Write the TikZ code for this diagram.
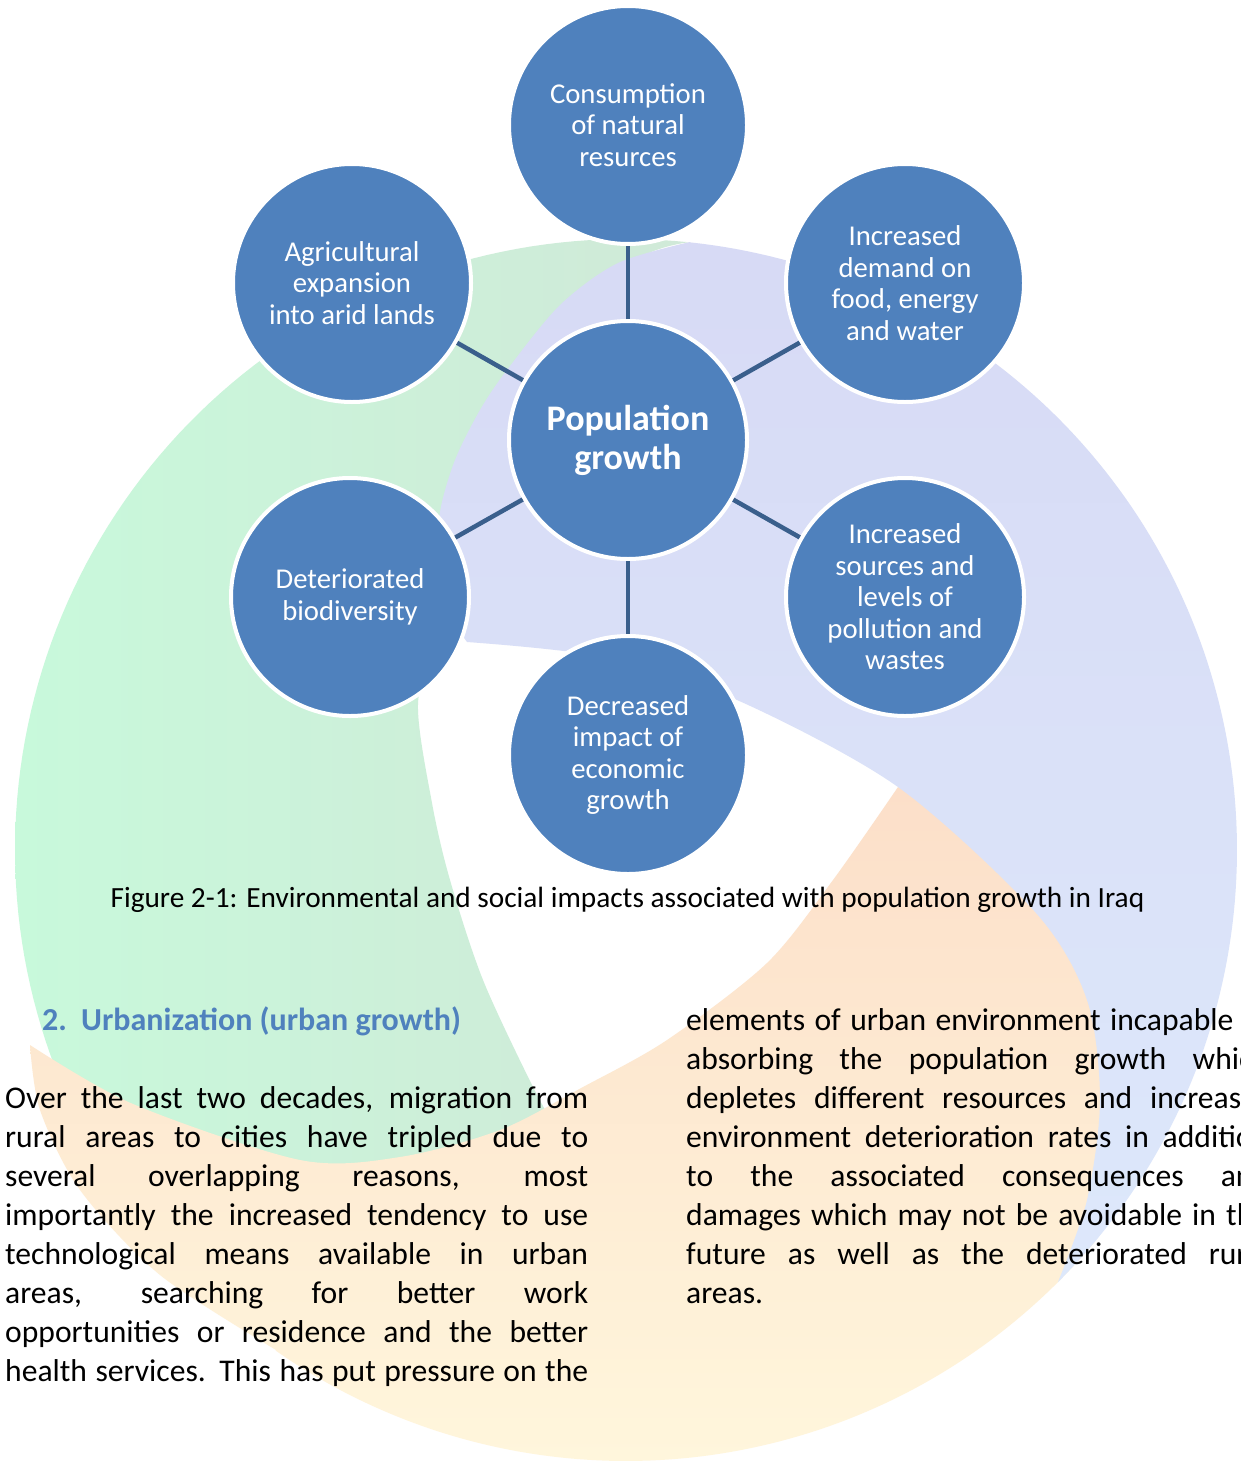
\documentclass[tikz,border=0pt]{standalone}
\usepackage{fontspec}
\setmainfont{Carlito}
\definecolor{cfill}{HTML}{4F81BD}
\definecolor{cline}{HTML}{3A5F8C}
\definecolor{headc}{HTML}{4F81BD}
\definecolor{grnA}{HTML}{C8F9DB}
\definecolor{grnB}{HTML}{D0E9D8}
\definecolor{orgA}{HTML}{FCDFC9}
\definecolor{orgB}{HTML}{FFF6DC}
\definecolor{bluA}{HTML}{D7DAF5}
\definecolor{bluB}{HTML}{DDE8FB}
\begin{document}
\begin{tikzpicture}[x=1pt,y=-1pt,
  bub/.style={circle, fill=cfill, draw=white, line width=4pt, minimum size=238pt,
    inner sep=0pt, text=white, align=center, font=\fontsize{28.7}{31.5}\selectfont},
  conn/.style={draw=cline, line width=4.5pt},
  bodyline/.style={anchor=base west, inner sep=0pt, font=\fontsize{31.6}{39}\selectfont},
  headline/.style={anchor=base west, inner sep=0pt, text=headc, font=\fontsize{32}{39}\selectfont\bfseries}]
\useasboundingbox (0,0) rectangle (1241,1464);
\fill[white] (0,0) rectangle (1241,1464);
\clip (0,0) rectangle (1241,1464);

% background swirl
\shade[left color=grnA, right color=grnB]
  plot[domain=84:205,samples=90] ({626+611*cos(\x)},{850-611*sin(\x)})
  -- (250,1200) -- (565,1145)
  -- plot[smooth] coordinates {(565,1145) (533,1087) (483,980) (450,880) (432,803) (418,704) (438,630) (470,560) (500,450) (560,330) (640,258) (690,242)}
  -- cycle;
\shade[top color=orgA, bottom color=orgB]
  plot[smooth] coordinates {(30,1045) (133,1104) (300,1160) (400,1157) (500,1130) (583,1087) (667,1040) (767,963) (833,880) (898,787)}
  -- plot[smooth] coordinates {(898,787) (960,815) (1040,880) (1120,980) (1150,1100) (1094,1243)}
  -- plot[domain=-40:-125,samples=90] ({626+611*cos(\x)},{850-611*sin(\x)})
  -- plot[smooth] coordinates {(276,1350) (160,1275) (80,1190) (40,1110) (30,1045)}
  -- cycle;
\shade[top color=bluA, bottom color=bluB]
  plot[smooth] coordinates {(467,642) (448,610) (440,560) (440,512) (455,460) (480,410) (507,370) (560,305) (618,263) (690,242)}
  -- plot[domain=84:-45,samples=120] ({626+611*cos(\x)},{850-611*sin(\x)})
  -- plot[smooth] coordinates {(1058,1282) (1087,1200) (1100,1100) (1087,1000) (1036,913) (898,787) (737,700) (603,657) (467,642)}
  -- cycle;

% bubbles
\node[bub] (cons) at (628,125) {Consumption\\of natural\\resurces};
\node[bub] (agri) at (352,283) {Agricultural\\expansion\\into arid lands};
\node[bub] (dem) at (905,283) {Increased\\demand on\\food, energy\\and water};
\node[bub, font=\fontsize{36}{39}\selectfont\bfseries] (pop) at (628,440) {Population\\growth};
\node[bub] (bio) at (350,597) {Deteriorated\\biodiversity};
\node[bub] (poll) at (905,597) {Increased\\sources and\\levels of\\pollution and\\wastes};
\node[bub] (dec) at (628,755) {Decreased\\impact of\\economic\\growth};

\draw[conn] (pop) -- (cons);
\draw[conn] (pop) -- (agri);
\draw[conn] (pop) -- (dem);
\draw[conn] (pop) -- (bio);
\draw[conn] (pop) -- (poll);
\draw[conn] (pop) -- (dec);

% caption
\node[anchor=base, inner sep=0pt, font=\fontsize{29.3}{35}\selectfont] (cap) at (627.5,907)
  {Figure 2-1: Environmental and social impacts associated with population growth in Iraq};

% heading
\node[headline] (hnum) at (42,1030) {2.};
\node[headline] (htxt) at (81,1030) {Urbanization (urban growth)};

% left column
\node[bodyline] (l1) at (5,1108) {\makebox[583pt][s]{Over the last two decades, migration from}};
\node[bodyline] (l2) at (5,1147) {\makebox[583pt][s]{rural areas to cities have tripled due to}};
\node[bodyline] (l3) at (5,1186) {\makebox[583pt][s]{several overlapping reasons, most}};
\node[bodyline] (l4) at (5,1225) {\makebox[583pt][s]{importantly the increased tendency to use}};
\node[bodyline] (l5) at (5,1264) {\makebox[583pt][s]{technological means available in urban}};
\node[bodyline] (l6) at (5,1303) {\makebox[583pt][s]{areas, searching for better work}};
\node[bodyline] (l7) at (5,1342) {\makebox[583pt][s]{opportunities or residence and the better}};
\node[bodyline] (l8) at (5,1381) {\makebox[583pt][s]{health services. This has put pressure on the}};

% right column (runs past the page edge, as in the reference)
\node[bodyline] (r1) at (686,1030) {\makebox[583pt][s]{elements of urban environment incapable of}};
\node[bodyline] (r2) at (686,1069) {\makebox[583pt][s]{absorbing the population growth which}};
\node[bodyline] (r3) at (686,1108) {\makebox[583pt][s]{depletes different resources and increases}};
\node[bodyline] (r4) at (686,1147) {\makebox[583pt][s]{environment deterioration rates in addition}};
\node[bodyline] (r5) at (686,1186) {\makebox[583pt][s]{to the associated consequences and}};
\node[bodyline] (r6) at (686,1225) {\makebox[583pt][s]{damages which may not be avoidable in the}};
\node[bodyline] (r7) at (686,1264) {\makebox[583pt][s]{future as well as the deteriorated rural}};
\node[bodyline] (r8) at (686,1303) {areas.};
\end{tikzpicture}
\end{document}
